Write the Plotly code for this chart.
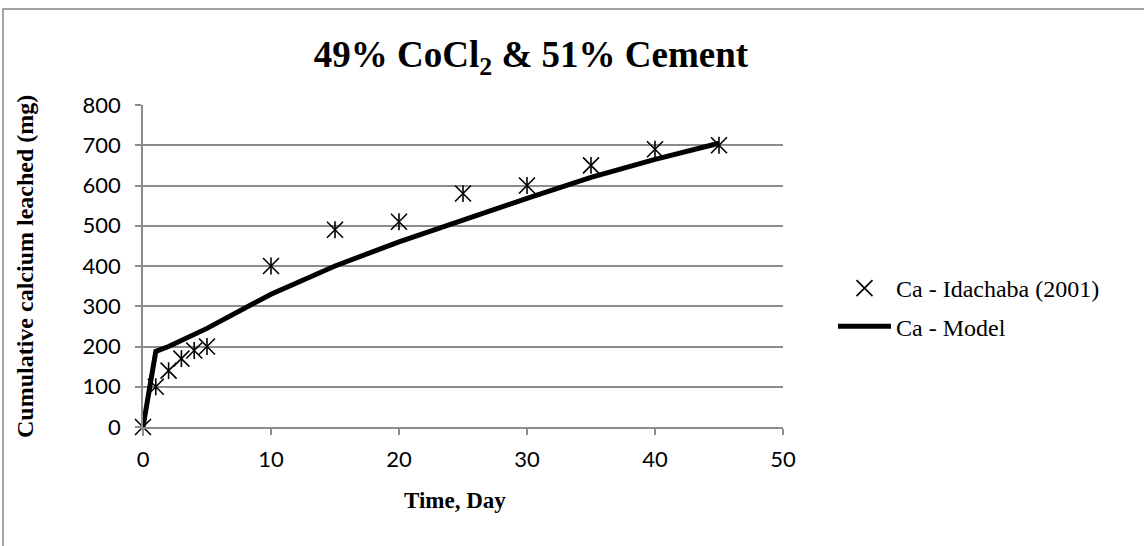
import plotly.graph_objects as go

# Measured cumulative calcium leached (Idachaba, 2001)
days_measured = [0, 1, 2, 3, 4, 5, 10, 15, 20, 25, 30, 35, 40, 45]
ca_measured = [0, 100, 140, 170, 190, 200, 400, 490, 510, 580, 600, 650, 690, 700]

# Model prediction
days_model = [0, 1, 2, 3, 4, 5, 10, 15, 20, 25, 30, 35, 40, 45]
ca_model = [0, 188, 200, 215, 230, 245, 330, 400, 460, 515, 568, 620, 665, 705]

x_ticks = [0, 10, 20, 30, 40, 50]
y_ticks = [0, 100, 200, 300, 400, 500, 600, 700, 800]

GRID = "#8c8c8c"
SERIF = "Liberation Serif, Times New Roman, serif"
SANS = "Lato, Carlito, Calibri, sans-serif"

fig = go.Figure()

# Star marker = diagonal cross plus a vertical stroke
fig.add_trace(go.Scatter(
    x=days_measured, y=ca_measured, mode="markers",
    name="Ca - Idachaba (2001)", legendgroup="meas", cliponaxis=False,
    marker=dict(symbol="x-thin", size=16, color="black",
                line=dict(color="black", width=1.6)),
))
fig.add_trace(go.Scatter(
    x=days_measured, y=ca_measured, mode="markers",
    showlegend=False, legendgroup="meas", hoverinfo="skip", cliponaxis=False,
    marker=dict(symbol="line-ns", size=12, color="black",
                line=dict(color="black", width=1.6)),
))
fig.add_trace(go.Scatter(
    x=days_model, y=ca_model, mode="lines",
    name="Ca - Model", legendgroup="model", cliponaxis=False,
    line=dict(color="black", width=5),
))

L, R, T, B = 143, 361, 105, 119
PW, PH = 1144 - L - R, 546 - T - B

def px_x(p):
    return (p - L) / PW

def px_y(p):
    return (546 - B - p) / PH

fig.update_layout(
    width=1144, height=546,
    margin=dict(l=L, r=R, t=T, b=B, pad=0),
    paper_bgcolor="white", plot_bgcolor="white",
    showlegend=True,
    title=dict(
        text="<b>49% CoCl<sub>2</sub> & 51% Cement</b>",
        font=dict(family=SERIF, size=37, color="black"),
        x=531 / 1144, xanchor="center", xref="container",
        y=1 - 54 / 546, yanchor="middle", yref="container",
    ),
    xaxis=dict(
        range=[0, 50], tickvals=x_ticks, ticktext=[str(v) for v in x_ticks],
        showgrid=False, zeroline=False,
        showline=True, linecolor=GRID, linewidth=1.5,
        ticks="outside", ticklen=6, tickcolor=GRID, tickwidth=1.5,
        ticklabelstandoff=6,
        tickfont=dict(family=SANS, size=22, color="black"),
    ),
    yaxis=dict(
        range=[0, 800], tickvals=y_ticks, ticktext=[str(v) for v in y_ticks],
        showgrid=True, gridcolor=GRID, gridwidth=1.5, zeroline=False,
        showline=True, linecolor=GRID, linewidth=1.5,
        ticks="outside", ticklen=6, tickcolor=GRID, tickwidth=1.5,
        ticklabelstandoff=10,
        tickfont=dict(family=SANS, size=22, color="black"),
    ),
    legend=dict(
        x=px_x(833), xanchor="left", y=px_y(266), yanchor="top",
        bgcolor="rgba(0,0,0,0)", borderwidth=0,
        font=dict(family=SERIF, size=24, color="black"),
        itemwidth=53, traceorder="grouped", tracegroupgap=4,
    ),
    annotations=[
        dict(text="<b>Cumulative calcium leached (mg)</b>", textangle=-90,
             x=px_x(25), y=px_y(267), xref="paper", yref="paper",
             xanchor="center", yanchor="middle", showarrow=False,
             font=dict(family=SERIF, size=24, color="black")),
        dict(text="<b>Time, Day</b>",
             x=px_x(455), y=px_y(500), xref="paper", yref="paper",
             xanchor="center", yanchor="middle", showarrow=False,
             font=dict(family=SERIF, size=23, color="black")),
    ],
    shapes=[
        dict(type="rect", xref="paper", yref="paper",
             x0=px_x(3), x1=px_x(1200), y0=px_y(600), y1=px_y(9),
             line=dict(color="#878787", width=1.5), fillcolor="rgba(0,0,0,0)",
             layer="below"),
    ],
)

fig.write_html("out.html")
